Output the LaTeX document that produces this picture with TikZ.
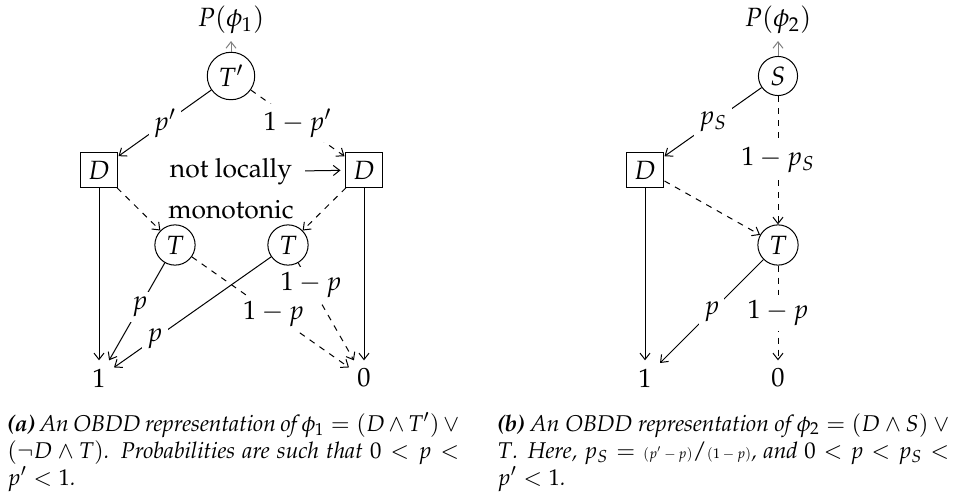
\documentclass[tikz,border=0pt]{standalone}
\usepackage[T1]{fontenc}
\usepackage{mathpazo}
\usetikzlibrary{arrows.meta}
\begin{document}
\begin{tikzpicture}[x=0.5pt,y=-0.5pt,
  >={Straight Barb[length=3.2pt,width=5pt]},
  every node/.style={font=\fontsize{13.2}{16}\selectfont},
  vcirc/.style={draw,circle,inner sep=2.6pt,line width=0.5pt},
  vbox/.style={draw,rectangle,inner sep=4pt,line width=0.5pt},
  term/.style={inner sep=4pt},
  lbl/.style={fill=white,inner sep=2.5pt},
  edge/.style={->,line width=0.5pt},
  dedge/.style={->,dashed,line width=0.5pt},
  rootedge/.style={->,gray,line width=0.5pt},
  capt/.style={font=\fontsize{11.4}{13.5}\selectfont\itshape, text width=226pt, align=justify, inner sep=0pt, anchor=base west}]
\useasboundingbox (0,0) rectangle (960,503);
% ---- left diagram ----
\node (p1) at (231,20) {$P(\phi_1)$};
\node[vcirc] (tp) at (231,76) {$T'$};
\node[vbox] (dl) at (99,170) {$D$};
\node[vbox] (dr) at (364,170) {$D$};
\node (nl1) at (231,172) {not locally};
\node (nl2) at (231,210) {monotonic};
\node[vcirc] (tl) at (175,245) {$T$};
\node[vcirc] (tr) at (288,245) {$T$};
\node[term] (one1) at (99,378) {$1$};
\node[term] (zero1) at (364,378) {$0$};
\draw[rootedge] (tp) -- (p1);
\draw[edge] (tp) -- node[lbl] {$p'$} (dl);
\draw[dedge] (tp) -- node[lbl] {$1-p'$} (dr);
\draw[edge,shorten <=3pt,shorten >=2pt] (nl1) -- (dr);
\draw[edge] (dl) -- (one1);
\draw[dedge] (dl) -- (tl);
\draw[edge] (dr) -- (zero1);
\draw[dedge] (dr) -- (tr);
\draw[edge] (tl) -- node[lbl,pos=0.45] {$p$} (one1);
\draw[dedge] (tl) -- node[lbl,pos=0.52] {$1-p$} (zero1);
\draw[edge] (tr) -- node[lbl,pos=0.74] {$p$} (one1);
\draw[dedge] (tr) -- node[lbl,pos=0.23] {$1-p$} (zero1);
% ---- right diagram ----
\node (p2) at (778,20) {$P(\phi_2)$};
\node[vcirc] (s) at (778,76) {$S$};
\node[vbox] (d2) at (645,170) {$D$};
\node[vcirc] (t2) at (778,245) {$T$};
\node[term] (one2) at (645,378) {$1$};
\node[term] (zero2) at (778,378) {$0$};
\draw[rootedge] (s) -- (p2);
\draw[edge] (s) -- node[lbl] {$p_S$} (d2);
\draw[dedge] (s) -- node[lbl] {$1-p_S$} (t2);
\draw[edge] (d2) -- (one2);
\draw[dedge] (d2) -- (t2);
\draw[edge] (t2) -- node[lbl] {$p$} (one2);
\draw[dedge] (t2) -- node[lbl] {$1-p$} (zero2);
% ---- captions ----
\node[capt] (capa) at (7,431) {\textbf{(a)} An OBDD representation of $\phi_1 = (D \wedge T') \vee (\neg D \wedge T)$. Probabilities are such that $0 < p < p' < 1$.};
\node[capt] (capb) at (497,431) {\textbf{(b)} An OBDD representation of $\phi_2 = (D \wedge S) \vee T$. Here, $p_S = \mbox{\scriptsize$(p'-p)$}/\mbox{\scriptsize$(1-p)$}$, and $0 < p < p_S < p' < 1$.};
\end{tikzpicture}
\end{document}
